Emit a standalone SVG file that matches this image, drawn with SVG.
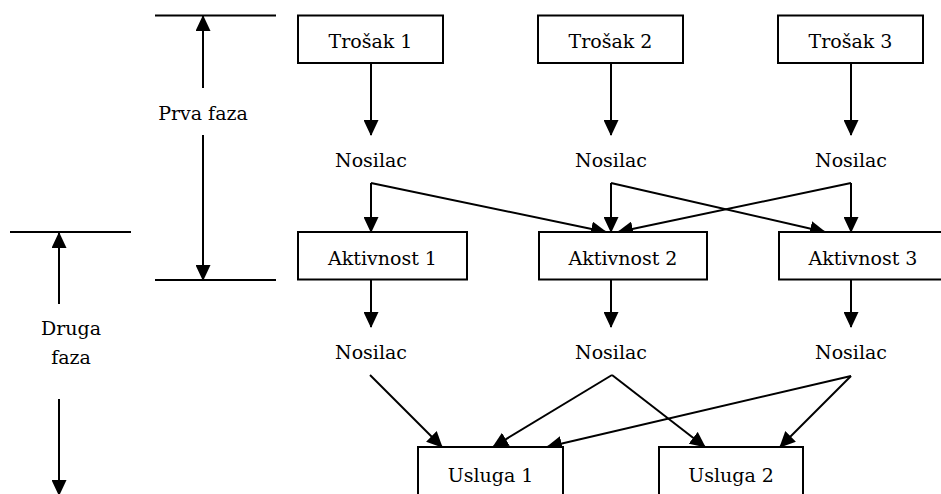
<svg xmlns="http://www.w3.org/2000/svg" width="941" height="494" viewBox="0 0 941 494">
<style>
.t{font-family:'DejaVu Serif','Liberation Serif',serif;font-size:19px;fill:#000;text-anchor:middle}
.box{fill:#fff;stroke:#000;stroke-width:2}
.ln{stroke:#000;stroke-width:2;fill:none}
.ar{stroke:#000;stroke-width:2;fill:none;marker-end:url(#ah)}
</style>
<defs>
<marker id="ah" viewBox="0 0 16 15" refX="15" refY="7.5" markerWidth="16" markerHeight="15" markerUnits="userSpaceOnUse" orient="auto">
<path d="M0,0 L16,7.5 L0,15 Z" fill="#000"/>
</marker>
</defs>
<rect width="941" height="494" fill="#fff"/>
<g id="faze">
<line class="ln" x1="155" y1="15.5" x2="276" y2="15.5"/>
<line class="ar" x1="203" y1="88" x2="203" y2="16"/>
<text class="t" x="203" y="120">Prva faza</text>
<line class="ar" x1="203" y1="135" x2="203" y2="280"/>
<line class="ln" x1="155" y1="280" x2="276" y2="280"/>
<line class="ln" x1="10" y1="232" x2="131" y2="232"/>
<line class="ar" x1="59" y1="304" x2="59" y2="233"/>
<text class="t" x="71" y="335">Druga</text>
<text class="t" x="71" y="364">faza</text>
<line class="ar" x1="59" y1="399" x2="59" y2="495"/>
</g>
<g id="connectors">
<line class="ar" x1="371" y1="63" x2="371" y2="135"/>
<line class="ar" x1="611" y1="63" x2="611" y2="135"/>
<line class="ar" x1="851" y1="63" x2="851" y2="135"/>
<line class="ar" x1="371" y1="183" x2="371" y2="232"/>
<line class="ar" x1="371" y1="183" x2="606" y2="232"/>
<line class="ar" x1="611" y1="183" x2="611" y2="232"/>
<line class="ar" x1="611" y1="183" x2="825" y2="232"/>
<line class="ar" x1="851" y1="183" x2="851" y2="232"/>
<line class="ar" x1="851" y1="183" x2="618" y2="232"/>
<line class="ar" x1="371" y1="280" x2="371" y2="327"/>
<line class="ar" x1="611" y1="280" x2="611" y2="327"/>
<line class="ar" x1="851" y1="280" x2="851" y2="327"/>
<line class="ar" x1="370" y1="375" x2="442" y2="447"/>
<line class="ar" x1="612" y1="375" x2="493" y2="447"/>
<line class="ar" x1="612" y1="375" x2="705" y2="447"/>
<line class="ar" x1="851" y1="376" x2="547" y2="447"/>
<line class="ar" x1="851" y1="376" x2="780" y2="447"/>
</g>
<g id="trosak1"><rect class="box" x="298" y="15.5" width="145" height="47.5"/><text class="t" x="370.5" y="48">Trošak 1</text></g>
<g id="trosak2"><rect class="box" x="538" y="15.5" width="145" height="47.5"/><text class="t" x="610.5" y="48">Trošak 2</text></g>
<g id="trosak3"><rect class="box" x="778" y="15.5" width="145" height="47.5"/><text class="t" x="850.5" y="48">Trošak 3</text></g>
<g id="nosilac1"><text class="t" x="371" y="167">Nosilac</text></g>
<g id="nosilac2"><text class="t" x="611" y="167">Nosilac</text></g>
<g id="nosilac3"><text class="t" x="851" y="167">Nosilac</text></g>
<g id="aktivnost1"><rect class="box" x="298" y="232" width="169" height="47.5"/><text class="t" x="382.5" y="265">Aktivnost 1</text></g>
<g id="aktivnost2"><rect class="box" x="539" y="232" width="168" height="47.5"/><text class="t" x="623" y="265">Aktivnost 2</text></g>
<g id="aktivnost3"><rect class="box" x="779" y="232" width="168" height="47.5"/><text class="t" x="863" y="265">Aktivnost 3</text></g>
<g id="nosilac4"><text class="t" x="371" y="359">Nosilac</text></g>
<g id="nosilac5"><text class="t" x="611" y="359">Nosilac</text></g>
<g id="nosilac6"><text class="t" x="851" y="359">Nosilac</text></g>
<g id="usluga1"><rect class="box" x="418" y="447" width="145" height="60"/><text class="t" x="490.5" y="482">Usluga 1</text></g>
<g id="usluga2"><rect class="box" x="659" y="447" width="144" height="60"/><text class="t" x="731" y="482">Usluga 2</text></g>
</svg>
